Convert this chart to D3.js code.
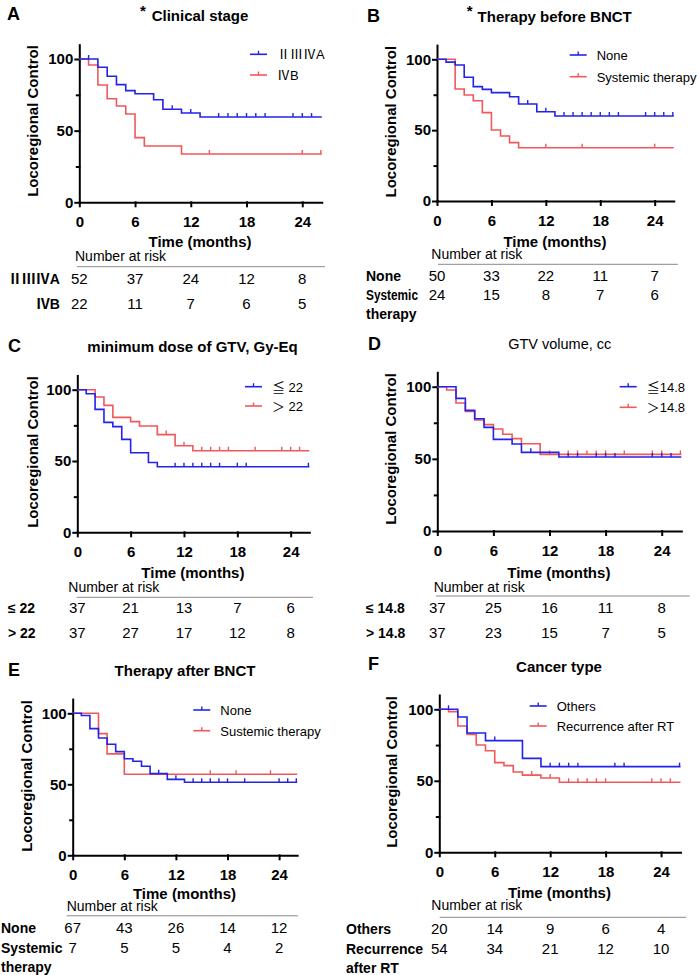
<!DOCTYPE html>
<html>
<head>
<meta charset="utf-8">
<script src="https://cdn.jsdelivr.net/npm/d3@7"></script>
<style>
  body { margin: 0; background: #fff; }
  text { font-family: "Liberation Sans", Arial, "Noto Sans CJK SC", sans-serif; }
</style>
</head>
<body>
<svg id="fig" width="697" height="975"></svg>
<script>
// time points of the risk table / x ticks
var months = [0, 6, 12, 18, 24];

// A: clinical stage
var aNames = ["ⅡⅢⅣA", "ⅣB"];
var aRows = [["ⅡⅢⅣA"], ["ⅣB"]];
var aBlue = [[0,100],[2,94.2],[3,88.0],[4,82.1],[5,77.9],[6,75.8],[8,71.6],[9,64.9],[11,62.3],[13,59.5]];
var aBlueCens = [1,10,12,15,16,17,18,19,20,23,24,25];
var aRed = [[0,100],[1,95.8],[2,81.9],[3,72.3],[4,67.2],[5,61.6],[6,45.1],[7,39.3],[11,33.7]];
var aRedCens = [14,24,26];
var aRisk1 = [52,37,24,12,8];
var aRisk2 = [22,11,7,6,5];

// B: therapy before BNCT
var bNames = ["None", "Systemic therapy"];
var bRows = [["None"], ["Systemic","therapy"]];
var bBlue = [[0,100],[1,98],[2,96],[3,87.3],[4,80.7],[5,78.8],[6,76.5],[8,73.6],[9,68.5],[11,63],[13,60]];
var bBlueCens = [10,12,14,15,16,17,18,19,20,23,24,25,26];
var bRed = [[0,100],[2,79],[3,74.8],[4,70.8],[5,62.4],[6,50.1],[7,45.9],[8,41.2],[9,37.6]];
var bRedCens = [12,16,24];
var bRisk1 = [50,33,22,11,7];
var bRisk2 = [24,15,8,7,6];

// C: minimum dose of GTV
var cNames = ["≦ 22", "＞ 22"];
var cRows = [["≤ 22"], ["> 22"]];
var cBlue = [[0,100],[1,97.2],[2,86.2],[3,77.1],[4,74.1],[5,65.2],[6,55.8],[8,49],[9,46]];
var cBlueCens = [11,12,13,14,15,16,18,19,26];
var cRed = [[0,100],[2,94.9],[3,89],[4,80.6],[6,77.6],[7,74.5],[9,68.5],[11,60.7],[13,57.2]];
var cRedCens = [10,12,14,15,16,17,20,23,24,25];
var cRisk1 = [37,21,13,7,6];
var cRisk2 = [37,27,17,12,8];

// D: GTV volume
var dNames = ["≦14.8", "＞14.8"];
var dRows = [["≤ 14.8"], ["> 14.8"]];
var dBlue = [[0,100],[2,91.9],[3,83.6],[4,77.8],[5,71.8],[6,63.5],[8,60.3],[9,54.5],[13,51.3]];
var dBlueCens = [10,14,15,17,18,19,23,24,25];
var dRed = [[0,100],[1,97.7],[2,88.7],[3,82.9],[4,76.9],[5,73.7],[6,70.7],[7,67],[8,64],[9,60.5],[11,53.1]];
var dRedCens = [12,14,15,16,17,18,20,23,24,26];
var dRisk1 = [37,25,16,11,8];
var dRisk2 = [37,23,15,7,5];

// E: therapy after BNCT
var eNames = ["None", "Sustemic therapy"];
var eRows = [["None"], ["Systemic","therapy"]];
var eBlue = [[0,100],[1,98.4],[2,89.2],[3,82.6],[4,78.2],[5,73],[6,68],[7,66.2],[8,62.7],[9,57.5],[11,53.5],[13,51.4]];
var eBlueCens = [10,12,14,15,16,17,18,20,24,25,26];
var eRed = [[0,100],[3,85.7],[4,71.4],[6,57.1]];
var eRedCens = [16,19,23];
var eRisk1 = [67,43,26,14,12];
var eRisk2 = [7,5,5,4,2];

// F: cancer type
var fNames = ["Others", "Recurrence after RT"];
var fRows = [["Others"], ["Recurrence","after RT"]];
var fBlue = [[0,100],[2,94.6],[3,83.4],[5,78.1],[9,65.7],[11,59.9]];
var fBlueCens = [1,6,12,13,14,15,19,20,26];
var fRed = [[0,100],[1,98.4],[2,88.3],[3,82.5],[4,75],[5,71],[6,62.7],[7,60.6],[8,56.2],[9,54],[11,52],[13,49]];
var fRedCens = [10,12,14,15,16,17,18,23,24,25];
var fRisk1 = [20,14,9,6,4];
var fRisk2 = [54,34,21,12,10];

var BLUE = "#2323ea", RED = "#f0585c";
var xMax = 26.1, yMax = 110;

// layout of each panel
var panels = [
  {letter:"A", lp:[7,20], title:"Clinical stage", tp:[200,20.7], bold:true, star:[143,16],
   x0:79.3, pm:9.29, y100:59, y0:202.3, yl:[37.7,121], leg:[250,54.3,75],
   names:aNames, blue:[aBlue,aBlueCens], red:[aRed,aRedCens], risk:[aRisk1,aRisk2],
   rows:aRows, rowX:60, rowAnchor:"end",
   off:[44.4,58.7,64.4,81.7,107], narX:75, lineX:[77,325]},
  {letter:"B", lp:[367,21.7], title:"Therapy before BNCT", tp:[554.7,21.7], bold:true, star:[469.7,15.5],
   x0:437, pm:9.07, y100:59.3, y0:201, yl:[396.3,121.7], leg:[569.7,55,76.7],
   names:bNames, blue:[bBlue,bBlueCens], red:[bRed,bRedCens], risk:[bRisk1,bRisk2],
   rows:bRows, rowX:366, rowAnchor:"start", squeeze:52,
   off:[45.7,58.3,63.3,79.7,99], narX:431.3, lineX:[438,678]},
  {letter:"C", lp:[8,351.7], title:"minimum dose of GTV, Gy-Eq", tp:[192.5,351.7], bold:true,
   x0:77.3, pm:8.89, y100:389.7, y0:532.3, yl:[38.3,452], leg:[245,386.7,406],
   names:cNames, blue:[cBlue,cBlueCens], red:[cRed,cRedCens], risk:[cRisk1,cRisk2],
   rows:cRows, rowX:8, rowAnchor:"start",
   off:[45.4,59.4,65,81,105.5], narX:68.3, lineX:[76.7,313]},
  {letter:"D", lp:[368,350], title:"GTV volume, cc", tp:[559.7,349.3], bold:false,
   x0:437.3, pm:9.35, y100:386.7, y0:531, yl:[395.7,449], leg:[619.7,386.7,407.3],
   names:dNames, blue:[dBlue,dBlueCens], red:[dRed,dRedCens], risk:[dRisk1,dRisk2],
   rows:dRows, rowX:366, rowAnchor:"start",
   off:[47.3,60.7,65,81.7,106.5], narX:433.7, lineX:[436,689.7]},
  {letter:"E", lp:[8,676], title:"Therapy after BNCT", tp:[185,676], bold:true,
   x0:72.7, pm:8.6, y100:713.3, y0:855.3, yl:[32.3,776], leg:[193.3,710,730.7],
   names:eNames, blue:[eBlue,eBlueCens], red:[eRed,eRedCens], risk:[eRisk1,eRisk2],
   rows:eRows, rowX:1, rowAnchor:"start",
   off:[43.8,56,60.5,77.4,98], narX:66.7, lineX:[66.7,298]},
  {letter:"F", lp:[368,670], title:"Cancer type", tp:[559,671.7], bold:true,
   x0:439.3, pm:9.24, y100:709.3, y0:852.3, yl:[397.3,772], leg:[529.7,706,726],
   names:fNames, blue:[fBlue,fBlueCens], red:[fRed,fRedCens], risk:[fRisk1,fRisk2],
   rows:fRows, rowX:346, rowAnchor:"start",
   off:[46,57.5,65,81.7,102], narX:431.3, lineX:[439.7,686.3]}
];

var svg = d3.select("#fig");
svg.append("rect").attr("width", 697).attr("height", 975).attr("fill", "#fff");

function valueAt(steps, t) {
  var v = steps[0][1];
  steps.forEach(function(d) { if (d[0] <= t) v = d[1]; });
  return v;
}

panels.forEach(function(p) {
  var g = svg.append("g").attr("class", "panel");
  var x = d3.scaleLinear().domain([0, xMax]).range([p.x0, p.x0 + xMax * p.pm]);
  var y = d3.scaleLinear().domain([0, yMax]).range([p.y0, p.y0 - yMax / 100 * (p.y0 - p.y100)]);

  // letter + title
  g.append("text").attr("x", p.lp[0]).attr("y", p.lp[1])
    .attr("font-size", 18).attr("font-weight", "bold").text(p.letter);
  g.append("text").attr("x", p.tp[0]).attr("y", p.tp[1])
    .attr("text-anchor", "middle")
    .attr("font-size", p.bold ? 15 : 14.5)
    .attr("font-weight", p.bold ? "bold" : "normal")
    .text(p.title);
  if (p.star) {
    g.append("text").attr("x", p.star[0]).attr("y", p.star[1])
      .attr("text-anchor", "middle").attr("font-size", 15).attr("font-weight", "bold").text("*");
  }

  // y label
  g.append("text")
    .attr("transform", "translate(" + p.yl[0] + "," + p.yl[1] + ") rotate(-90)")
    .attr("text-anchor", "middle").attr("font-size", 15).attr("font-weight", "bold")
    .text("Locoregional Control");

  // axes
  var ya = g.append("g").attr("transform", "translate(" + p.x0 + ",0)")
    .call(d3.axisLeft(y).tickValues([0, 50, 100]).tickSize(4).tickPadding(2).tickSizeOuter(0));
  g.append("g").attr("transform", "translate(" + p.x0 + ",0)")
    .call(d3.axisLeft(y).tickValues([25, 75]).tickSize(2.5).tickFormat("").tickSizeOuter(0))
    .call(function(a) { a.select(".domain").remove(); });
  var xa = g.append("g").attr("transform", "translate(0," + p.y0 + ")")
    .call(d3.axisBottom(x).tickValues(months).tickSize(4).tickPadding(10).tickSizeOuter(0));
  [ya, xa].forEach(function(a) {
    a.selectAll("text").attr("font-size", 15).attr("font-weight", "bold")
      .attr("font-family", "'Liberation Sans', Arial, sans-serif").attr("fill", "#000");
  });
  g.selectAll(".domain, .tick line").attr("stroke", "#000").attr("stroke-width", 2)
    .attr("stroke-linecap", "square");

  // curves
  var line = d3.line().x(function(d) { return x(d[0]); }).y(function(d) { return y(d[1]); })
    .curve(d3.curveStepAfter);
  [[p.red, RED], [p.blue, BLUE]].forEach(function(s) {
    var steps = s[0][0], cens = s[0][1];
    var pts = steps.concat([[xMax, steps[steps.length - 1][1]]]);
    g.append("path").datum(pts).attr("d", line)
      .attr("fill", "none").attr("stroke", s[1]).attr("stroke-width", 1.6);
    g.selectAll(null).data(cens).enter().append("line")
      .attr("x1", function(t) { return x(t); }).attr("x2", function(t) { return x(t); })
      .attr("y1", function(t) { return y(valueAt(steps, t)); })
      .attr("y2", function(t) { return y(valueAt(steps, t)) - 4; })
      .attr("stroke", s[1]).attr("stroke-width", 1.4);
  });

  // legend
  [BLUE, RED].forEach(function(c, i) {
    var ly = p.leg[1 + i];
    g.append("line").attr("x1", p.leg[0]).attr("x2", p.leg[0] + 17)
      .attr("y1", ly).attr("y2", ly).attr("stroke", c).attr("stroke-width", 1.6);
    g.append("line").attr("x1", p.leg[0] + 8.5).attr("x2", p.leg[0] + 8.5)
      .attr("y1", ly).attr("y2", ly - 3.5).attr("stroke", c).attr("stroke-width", 1.4);
    g.append("text").attr("x", p.leg[0] + 27).attr("y", ly + 4.8)
      .attr("font-size", 13).text(p.names[i]);
  });

  // risk table
  var xm = x(13);
  g.append("text").attr("x", xm).attr("y", p.y0 + p.off[0]).attr("text-anchor", "middle")
    .attr("font-size", 15).attr("font-weight", "bold").text("Time (months)");
  g.append("text").attr("x", p.narX).attr("y", p.y0 + p.off[1])
    .attr("font-size", 14).text("Number at risk");
  g.append("line").attr("x1", p.lineX[0]).attr("x2", p.lineX[1])
    .attr("y1", p.y0 + p.off[2]).attr("y2", p.y0 + p.off[2])
    .attr("stroke", "#8a8a8a").attr("stroke-width", 1);

  p.risk.forEach(function(row, r) {
    var by = p.y0 + p.off[3 + r];
    g.selectAll(null).data(row).enter().append("text")
      .attr("x", function(d, i) { return x(months[i]); }).attr("y", by)
      .attr("text-anchor", "middle").attr("font-size", 15).text(function(d) { return d; });
    p.rows[r].forEach(function(lab, k) {
      var t = g.append("text").attr("x", p.rowX).attr("y", by + k * 18.5)
        .attr("text-anchor", p.rowAnchor).attr("font-size", 14).attr("font-weight", "bold")
        .text(lab);
      if (p.squeeze && lab === "Systemic") {
        t.attr("textLength", p.squeeze).attr("lengthAdjust", "spacingAndGlyphs");
      }
    });
  });
});
</script>
</body>
</html>
